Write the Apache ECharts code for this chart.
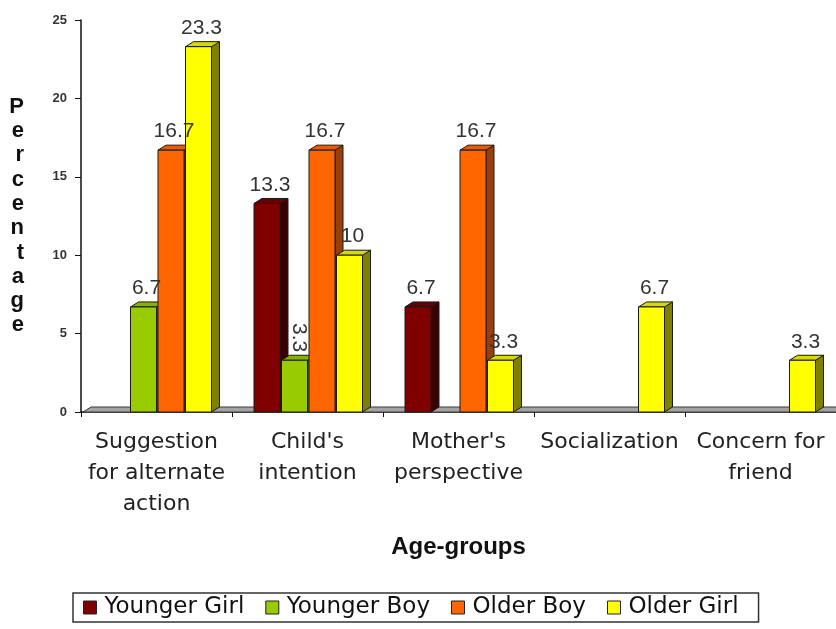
<!DOCTYPE html>
<html>
<head>
<meta charset="utf-8">
<script src="https://cdn.jsdelivr.net/npm/echarts@6/dist/echarts.min.js"></script>
<style>
  html, body { margin: 0; padding: 0; background: #fff; }
  #chart { width: 836px; height: 629px; }
</style>
</head>
<body>
<div id="chart"></div>
<script>
// Reasons given, by age group (percent)
const categories = [
  'Suggestion\nfor alternate\naction',
  "Child's\nintention",
  "Mother's\nperspective",
  'Socialization',
  'Concern for\nfriend'
];
const seriesNames = ['Younger Girl', 'Younger Boy', 'Older Boy', 'Older Girl'];
const youngerGirl = [0, 13.3, 6.7, 0, 0];
const youngerBoy  = [6.7, 3.3, 0, 0, 0];
const olderBoy    = [16.7, 16.7, 16.7, 0, 0];
const olderGirl   = [23.3, 10, 3.3, 6.7, 3.3];
const yTicks = { min: 0, max: 25, interval: 5 };

// Face colours for the pseudo-3D columns: front, top, side
const palette = [
  { front: '#800000', top: '#6a0000', side: '#3a0000' },
  { front: '#99cc00', top: '#86b300', side: '#4d6600' },
  { front: '#ff6600', top: '#e65c00', side: '#9a3f0a' },
  { front: '#ffff00', top: '#d9d900', side: '#7f7f00' }
];
const DX = 8, DY = 5;          // depth offset of the 3D faces
const BAR_STEP = 27.5, BAR_W = 26;
const LABEL_FONT = '21px "Liberation Sans", Arial, sans-serif';
// the small Younger Boy label in the second group is set on its side
const sidewaysLabel = (s, c) => s === 1 && c === 1;

const values = [youngerGirl, youngerBoy, olderBoy, olderGirl];

function barGeometry(s, api) {
  const c = api.value(0);
  const v = api.value(1);
  const base = api.coord([c, 0]);
  const top = api.coord([c, v]);
  const x0 = base[0] - 2 * BAR_STEP + s * BAR_STEP + 1.5;
  return { c, v, x0, x1: x0 + BAR_W, yTop: top[1], yBase: base[1] };
}

function barRenderer(s) {
  return function (params, api) {
    const g = barGeometry(s, api);
    if (!g.v) return null;
    const col = palette[s];
    const stroke = { stroke: '#1a1a1a', lineWidth: 1 };
    return {
      type: 'group',
      children: [
        { type: 'polygon', shape: { points: [[g.x1, g.yTop], [g.x1 + DX, g.yTop - DY], [g.x1 + DX, g.yBase - DY], [g.x1, g.yBase]] },
          style: Object.assign({ fill: col.side }, stroke) },
        { type: 'polygon', shape: { points: [[g.x0, g.yTop], [g.x0 + DX, g.yTop - DY], [g.x1 + DX, g.yTop - DY], [g.x1, g.yTop]] },
          style: Object.assign({ fill: col.top }, stroke) },
        { type: 'rect', shape: { x: g.x0, y: g.yTop, width: BAR_W, height: g.yBase - g.yTop },
          style: Object.assign({ fill: col.front }, stroke) }
      ]
    };
  };
}

// value labels sit above all columns
function labelRenderer(s) {
  return function (params, api) {
    const g = barGeometry(s, api);
    if (!g.v) return null;
    const text = String(g.v);
    if (sidewaysLabel(s, g.c)) {
      return { type: 'text', x: g.x0 + BAR_W / 2 + 4, y: g.yTop - DY - 3, rotation: -Math.PI / 2,
        style: { text, x: 0, y: 0, align: 'right', verticalAlign: 'middle', font: LABEL_FONT, fill: '#333' } };
    }
    return { type: 'text',
      style: { text, x: g.x0 + BAR_W / 2 + 3, y: g.yTop - DY - 3, align: 'center', verticalAlign: 'bottom',
               font: LABEL_FONT, fill: '#333' } };
  };
}

// grey floor slab along the category axis
function floorRenderer(params, api) {
  const band = api.size([1, 0])[0];
  const left = api.coord([0, 0]);
  const right = api.coord([categories.length - 1, 0]);
  const xl = left[0] - band / 2, xr = right[0] + band / 2, y = left[1];
  return {
    type: 'polygon',
    shape: { points: [[xl + 2, y], [xl + 2 + DX, y - DY], [xr + DX, y - DY], [xr, y]] },
    style: { fill: '#a3a3a3', stroke: '#3a3a3a', lineWidth: 1 }
  };
}

const chart = echarts.init(document.getElementById('chart'), null, { renderer: 'canvas' });

const series = [{
  type: 'custom',
  name: 'floor',
  renderItem: floorRenderer,
  data: [[0, 0]],
  encode: { x: 0, y: 1 },
  silent: true,
  z: 1
}];
seriesNames.forEach((name, s) => {
  series.push({
    type: 'custom',
    name,
    renderItem: barRenderer(s),
    data: values[s].map((v, i) => [i, v]),
    encode: { x: 0, y: 1 },
    itemStyle: { color: palette[s].front, borderColor: '#222', borderWidth: 1 },
    z: 2 + s
  });
});
seriesNames.forEach((name, s) => {
  series.push({
    type: 'custom',
    name: name + ' labels',
    renderItem: labelRenderer(s),
    data: values[s].map((v, i) => [i, v]),
    encode: { x: 0, y: 1 },
    silent: true,
    z: 20
  });
});

chart.setOption({
  backgroundColor: '#fff',
  animation: false,
  grid: { left: 81, right: 0, top: 20, bottom: 217, outerBoundsMode: 'none' },
  xAxis: {
    type: 'category',
    data: categories,
    name: 'Age-groups',
    nameLocation: 'middle',
    nameGap: 123,
    nameTextStyle: { fontFamily: '"Liberation Sans", Arial, sans-serif', fontWeight: 'bold', fontSize: 24, color: '#111' },
    axisLine: { lineStyle: { color: '#111', width: 1.5 } },
    axisTick: { show: true, length: 5, lineStyle: { color: '#111' } },
    axisLabel: {
      interval: 0, margin: 15, fontSize: 22, lineHeight: 31,
      fontFamily: '"DejaVu Sans", Verdana, sans-serif', color: '#222'
    },
    splitLine: { show: false }
  },
  yAxis: {
    type: 'value',
    min: yTicks.min, max: yTicks.max, interval: yTicks.interval,
    name: 'Percentage'.split('').join('\n'),
    nameLocation: 'middle',
    nameRotate: 0,
    nameGap: 57,
    nameTextStyle: { fontFamily: '"Liberation Sans", Arial, sans-serif', fontWeight: 'bold', fontSize: 22, lineHeight: 24.3, color: '#111' },
    axisLine: { show: true, lineStyle: { color: '#111', width: 1.5 } },
    axisTick: { show: true, length: 6, lineStyle: { color: '#111' } },
    axisLabel: { margin: 14, fontSize: 13, fontWeight: 'bold', fontFamily: '"Liberation Sans", Arial, sans-serif', color: '#333' },
    splitLine: { show: false }
  },
  legend: {
    data: seriesNames,
    left: 73,
    top: 593,
    padding: [2, 20, 2, 10],
    itemGap: 21,
    itemWidth: 13,
    itemHeight: 13,
    icon: 'rect',
    borderColor: '#333',
    borderWidth: 1.5,
    itemStyle: { borderColor: '#222', borderWidth: 1 },
    textStyle: { fontFamily: '"DejaVu Sans", Verdana, sans-serif', fontSize: 23, lineHeight: 25, color: '#111', padding: [0, 0, 0, 3] }
  },
  series
});
</script>
</body>
</html>
